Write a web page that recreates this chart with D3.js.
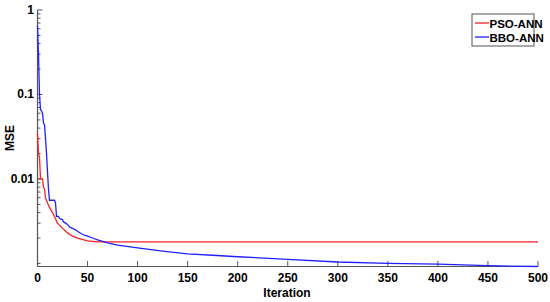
<!DOCTYPE html>
<html>
<head>
<meta charset="utf-8">
<script src="https://cdn.jsdelivr.net/npm/d3@7"></script>
<style>
body { margin: 0; background: #fff; }
text { font-family: "Liberation Sans Narrow", "Arial Narrow", "Liberation Sans", Arial, sans-serif; font-weight: bold; }
</style>
</head>
<body>
<script>
var w = 550;
var h = 302;

// iteration / MSE
var psoIter = [0, 1, 2, 3, 5, 6, 7, 8, 10, 12, 15, 20, 25, 30, 35, 40, 50, 60, 500];
var psoMse = [0.035, 0.02, 0.018, 0.01, 0.01, 0.008, 0.0075, 0.006, 0.0052, 0.0046, 0.004, 0.003, 0.0026, 0.0023, 0.0021, 0.002, 0.00185, 0.0018, 0.0018];

var bboIter = [0, 1, 2, 3, 4, 5, 6, 7, 8, 9, 10, 11, 12, 17, 18, 19, 21, 22, 25, 26, 28, 30, 32, 35, 38, 40, 45, 50, 55, 60, 70, 80, 100, 125, 150, 175, 200, 250, 300, 350, 400, 450, 500];
var bboMse = [0.65, 0.3, 0.1, 0.066, 0.064, 0.06, 0.046, 0.044, 0.03, 0.02, 0.012, 0.0075, 0.0056, 0.0056, 0.0052, 0.0036, 0.0036, 0.0034, 0.0033, 0.0031, 0.003, 0.0029, 0.0027, 0.0026, 0.0025, 0.0024, 0.0022, 0.0021, 0.002, 0.0019, 0.00175, 0.00165, 0.00153, 0.0014, 0.0013, 0.00125, 0.0012, 0.00112, 0.00104, 0.001, 0.00098, 0.00094, 0.00092];

var xTicks = [0, 50, 100, 150, 200, 250, 300, 350, 400, 450, 500];
var yTicks = [0.01, 0.1, 1];
var yLabels = ["0.01", "0.1", "1"];
var seriesNames = ["PSO-ANN", "BBO-ANN"];
var seriesColors = ["#ff2020", "#2020ff"];

var x = d3.scaleLinear().domain([0, 500]).range([37.5, 538]);
var y = d3.scaleLog().domain([0.00092, 1]).range([266.5, 10]);

var svg = d3.select("body")
            .append("svg")
              .attr("width", w)
              .attr("height", h);

// minor log ticks
var minor = [];
[0.001, 0.01, 0.1].forEach(function(d) {
  for (var k = 1; k < 10; k++) {
    var v = d * k;
    if (v >= 0.00092 && v <= 1) minor.push(v);
  }
});

var axisColor = "#555";

svg.append("g")
    .selectAll("line")
    .data(minor)
    .enter()
    .append("line")
      .attr("x1", 37.5).attr("x2", 40.5)
      .attr("y1", function(d) { return y(d); })
      .attr("y2", function(d) { return y(d); })
      .attr("stroke", axisColor);

svg.append("g")
    .selectAll("line")
    .data(yTicks)
    .enter()
    .append("line")
      .attr("x1", 37.5).attr("x2", 42.5)
      .attr("y1", function(d) { return y(d); })
      .attr("y2", function(d) { return y(d); })
      .attr("stroke", axisColor);

svg.append("g")
    .selectAll("text")
    .data(yTicks)
    .enter()
    .append("text")
      .attr("x", 34)
      .attr("y", function(d) { return y(d) + 4; })
      .attr("text-anchor", "end")
      .attr("font-size", 12)
      .text(function(d, i) { return yLabels[i]; });

svg.append("g")
    .selectAll("line")
    .data(xTicks)
    .enter()
    .append("line")
      .attr("x1", function(d) { return x(d); })
      .attr("x2", function(d) { return x(d); })
      .attr("y1", 266.5).attr("y2", 261)
      .attr("stroke", axisColor);

svg.append("g")
    .selectAll("text")
    .data(xTicks)
    .enter()
    .append("text")
      .attr("x", function(d) { return x(d); })
      .attr("y", 282)
      .attr("text-anchor", "middle")
      .attr("font-size", 12)
      .text(function(d) { return d; });

svg.append("path")
    .attr("d", "M37.5,10V266.5H538")
    .attr("fill", "none")
    .attr("stroke", axisColor)
    .attr("stroke-width", 1.2);

var line = d3.line()
  .x(function(d) { return x(d[0]); })
  .y(function(d) { return y(d[1]); });

svg.append("path")
    .datum(d3.zip(psoIter, psoMse))
    .attr("d", line)
    .attr("fill", "none")
    .attr("stroke", seriesColors[0])
    .attr("stroke-width", 1.3);

svg.append("path")
    .datum(d3.zip(bboIter, bboMse))
    .attr("d", line)
    .attr("fill", "none")
    .attr("stroke", seriesColors[1])
    .attr("stroke-width", 1.3);

svg.append("text")
    .attr("x", 287)
    .attr("y", 297)
    .attr("text-anchor", "middle")
    .attr("font-size", 12)
    .text("Iteration");

svg.append("text")
    .attr("transform", "translate(14,138) rotate(-90)")
    .attr("text-anchor", "middle")
    .attr("font-size", 12)
    .text("MSE");

// legend
var lg = svg.append("g");
lg.append("rect")
    .attr("x", 472).attr("y", 14)
    .attr("width", 62).attr("height", 32)
    .attr("fill", "#fff")
    .attr("stroke", "#555");
seriesNames.forEach(function(name, i) {
  lg.append("line")
    .attr("x1", 475).attr("x2", 489)
    .attr("y1", 23 + i * 14).attr("y2", 23 + i * 14)
    .attr("stroke", seriesColors[i])
    .attr("stroke-width", 1.3);
  lg.append("text")
    .attr("x", 489.5)
    .attr("y", 27.5 + i * 14)
    .attr("font-size", 11.5)
    .text(name);
});
</script>
</body>
</html>
